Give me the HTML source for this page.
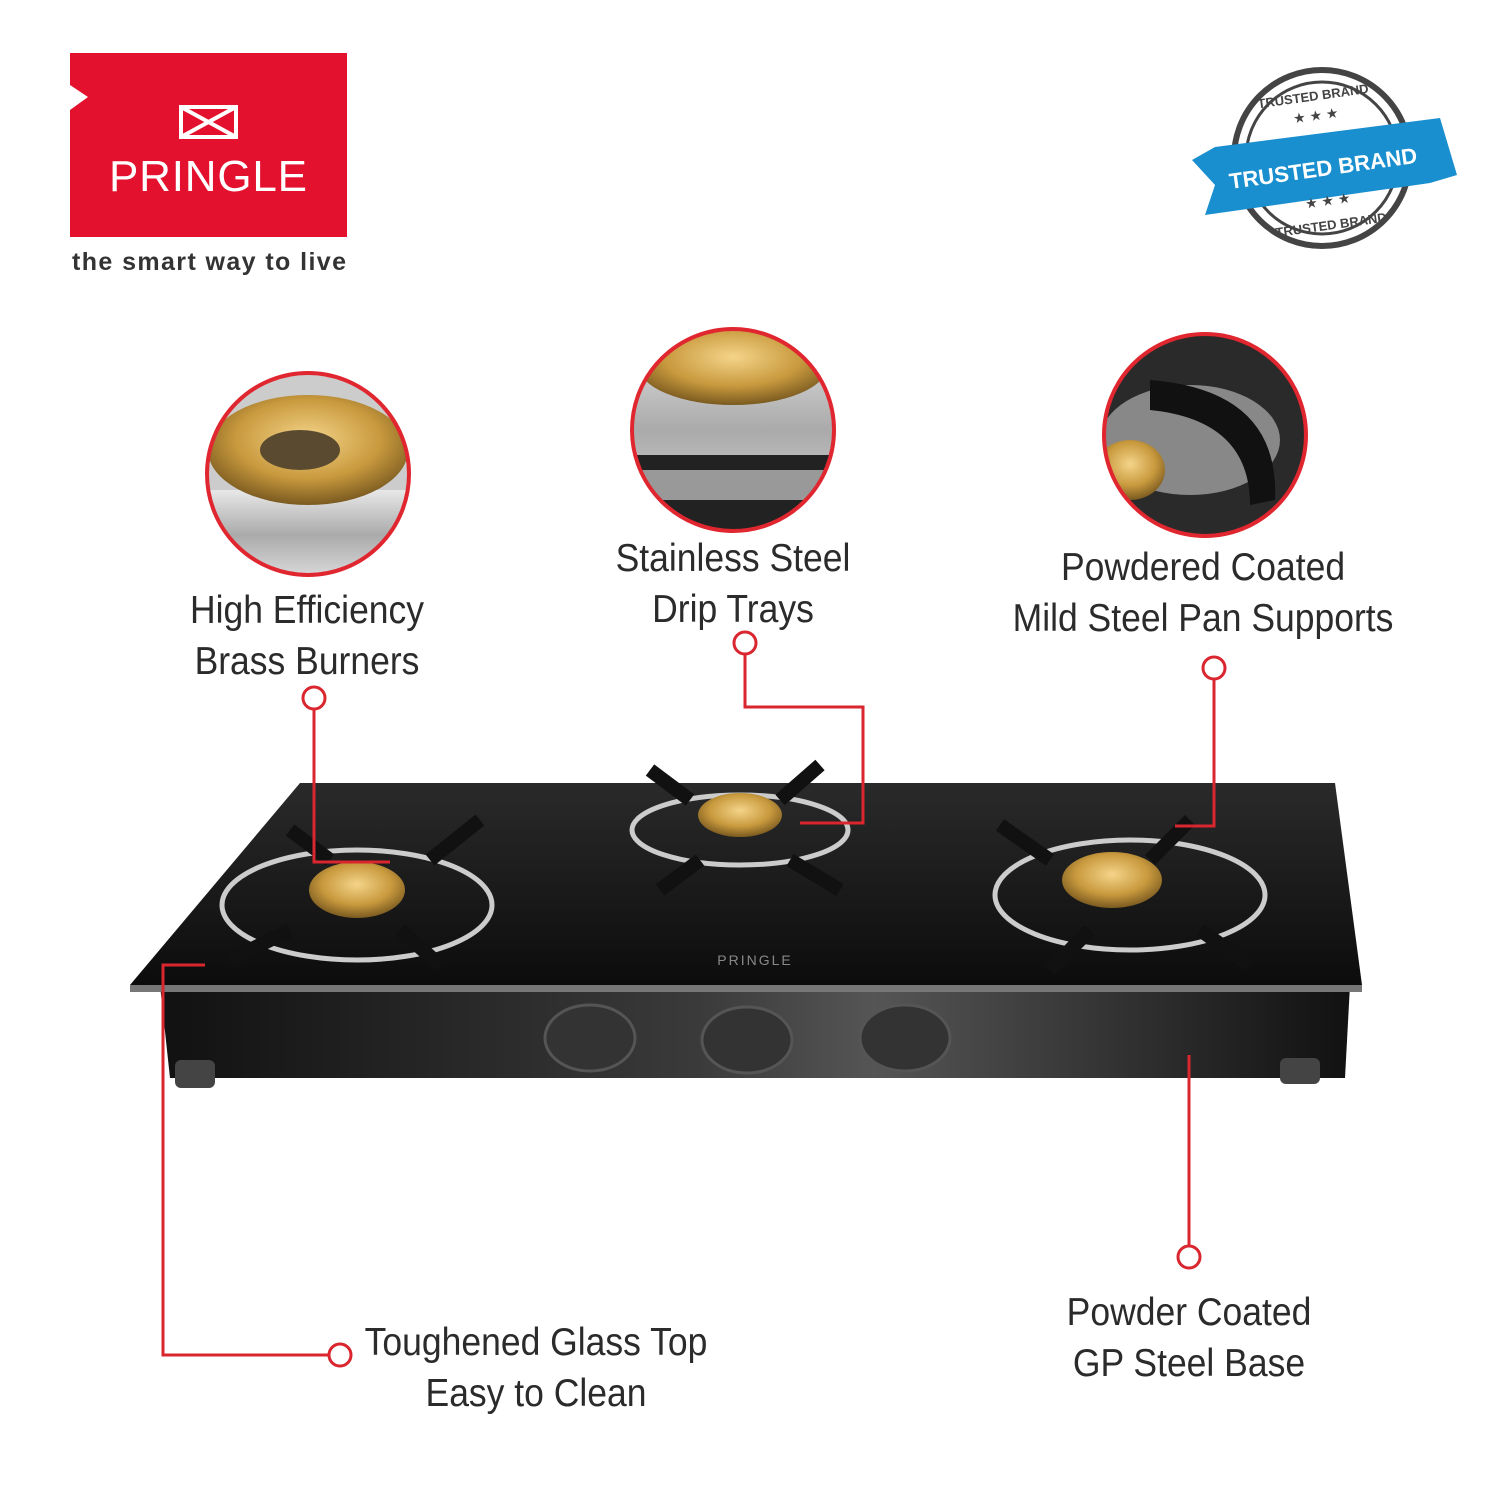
<!DOCTYPE html>
<html><head><meta charset="utf-8"><style>
html,body{margin:0;padding:0;background:#fff;}
body{width:1500px;height:1500px;position:relative;overflow:hidden;font-family:"Liberation Sans",sans-serif;}
.t{position:absolute;text-align:center;font-family:"Liberation Sans",sans-serif;font-size:39px;line-height:51px;color:#2b2b2b;transform:scaleX(0.91);transform-origin:center top;}
</style></head><body>
<svg width="1500" height="1500" style="position:absolute;left:0;top:0">
<defs>
<radialGradient id="brass" cx="50%" cy="40%" r="60%"><stop offset="0" stop-color="#f4d48a"/><stop offset="0.6" stop-color="#c99a3e"/><stop offset="1" stop-color="#7a5a20"/></radialGradient>
<linearGradient id="steel" x1="0" y1="0" x2="0" y2="1"><stop offset="0" stop-color="#e8e8e8"/><stop offset="0.5" stop-color="#aaa"/><stop offset="1" stop-color="#ddd"/></linearGradient>
<linearGradient id="base" x1="0" y1="0" x2="1" y2="0"><stop offset="0" stop-color="#111"/><stop offset="0.45" stop-color="#3a3a3a"/><stop offset="0.6" stop-color="#555"/><stop offset="1" stop-color="#111"/></linearGradient>
<linearGradient id="glass" x1="0" y1="0" x2="0" y2="1"><stop offset="0" stop-color="#2a2a2a"/><stop offset="1" stop-color="#0c0c0c"/></linearGradient>
<clipPath id="c1"><circle cx="308" cy="474" r="100"/></clipPath>
<clipPath id="c2"><circle cx="733" cy="430" r="100"/></clipPath>
<clipPath id="c3"><circle cx="1205" cy="435" r="100"/></clipPath>
</defs>
<polygon points="70,53 347,53 347,237 70,237 70,110 88,97 70,85" fill="#e4112e"/>
<g stroke="#fff" stroke-width="4" fill="none"><rect x="181" y="107" width="55" height="30"/><path d="M181,107 L236,137 M236,107 L181,137"/></g>
<text x="208" y="191" font-family="Liberation Sans" font-size="44" fill="#fff" text-anchor="middle" textLength="198">PRINGLE</text>
<text x="72" y="270" font-family="Liberation Sans" font-size="25" fill="#333" font-weight="bold" textLength="274">the smart way to live</text>
<g>
<circle cx="1322" cy="158" r="88" fill="#fff" stroke="#444" stroke-width="6"/>
<circle cx="1322" cy="158" r="76" fill="none" stroke="#444" stroke-width="3"/>
<polygon points="1192,160 1215,147 1440,118 1457,175 1430,183 1205,215 1215,185" fill="#1a8fcf"/>
<text x="1322" y="176" font-size="22" font-weight="bold" fill="#fff" text-anchor="middle" transform="rotate(-8 1322 160)">TRUSTED BRAND</text>
<text x="1322" y="100" font-size="13" font-weight="bold" fill="#444" text-anchor="middle" transform="rotate(-8 1322 160)">TRUSTED BRAND</text>
<text x="1322" y="230" font-size="13" font-weight="bold" fill="#444" text-anchor="middle" transform="rotate(-8 1322 160)">TRUSTED BRAND</text>
<text x="1322" y="120" font-size="14" fill="#444" text-anchor="middle" transform="rotate(-8 1322 160)">★ ★ ★</text>
<text x="1322" y="206" font-size="14" fill="#444" text-anchor="middle" transform="rotate(-8 1322 160)">★ ★ ★</text>
</g>
<g clip-path="url(#c1)"><rect x="200" y="370" width="220" height="210" fill="#ccc"/><rect x="200" y="490" width="220" height="90" fill="url(#steel)"/><ellipse cx="308" cy="450" rx="100" ry="55" fill="url(#brass)"/><ellipse cx="300" cy="450" rx="40" ry="20" fill="#5a4a30"/></g>
<circle cx="308" cy="474" r="101" fill="none" stroke="#e0262f" stroke-width="4"/>
<g clip-path="url(#c2)"><rect x="630" y="325" width="210" height="210" fill="url(#steel)"/><ellipse cx="733" cy="365" rx="95" ry="40" fill="url(#brass)"/><rect x="630" y="455" width="210" height="80" fill="#222"/><rect x="640" y="470" width="190" height="30" fill="#999"/></g>
<circle cx="733" cy="430" r="101" fill="none" stroke="#e0262f" stroke-width="4"/>
<g clip-path="url(#c3)"><rect x="1100" y="330" width="210" height="210" fill="#2a2a2a"/><ellipse cx="1190" cy="440" rx="90" ry="55" fill="#888"/><ellipse cx="1130" cy="470" rx="35" ry="30" fill="url(#brass)"/><path d="M1150,380 Q1280,390 1275,500 L1250,505 Q1250,420 1150,410 Z" fill="#111"/></g>
<circle cx="1205" cy="435" r="101" fill="none" stroke="#e0262f" stroke-width="4"/>
<polygon points="160,985 1350,985 1345,1078 170,1078" fill="url(#base)"/>
<rect x="175" y="1060" width="40" height="28" rx="6" fill="#444"/>
<rect x="1280" y="1058" width="40" height="26" rx="6" fill="#444"/>
<polygon points="300,783 1335,783 1362,985 130,985" fill="url(#glass)"/>
<polygon points="130,985 1362,985 1362,992 130,992" fill="#777"/>
<g fill="#333" stroke="#555" stroke-width="3"><ellipse cx="590" cy="1038" rx="45" ry="33"/><ellipse cx="747" cy="1040" rx="45" ry="33"/><ellipse cx="905" cy="1038" rx="45" ry="33"/></g>
<g fill="none" stroke="#ccc" stroke-width="5">
<ellipse cx="357" cy="905" rx="135" ry="55"/><ellipse cx="740" cy="830" rx="108" ry="35"/><ellipse cx="1130" cy="895" rx="135" ry="55"/></g>
<g fill="none" stroke="#111" stroke-width="14">
<path d="M290,830 L330,860 M480,820 L430,860 M230,960 L290,930 M440,965 L400,930"/>
<path d="M650,770 L690,800 M820,765 L780,800 M660,890 L700,860 M840,890 L790,860"/>
<path d="M1000,825 L1050,860 M1190,820 L1150,860 M1050,970 L1090,930 M1250,965 L1200,930"/>
</g>
<ellipse cx="357" cy="890" rx="48" ry="28" fill="url(#brass)"/>
<ellipse cx="740" cy="815" rx="42" ry="22" fill="url(#brass)"/>
<ellipse cx="1112" cy="880" rx="50" ry="28" fill="url(#brass)"/>
<text x="755" y="965" font-size="14" fill="#888" text-anchor="middle" letter-spacing="2">PRINGLE</text>
<g stroke="#d9262f" stroke-width="3" fill="none">
<path d="M314,710 L314,862 L390,862"/><circle cx="314" cy="698" r="11" fill="#fff"/>
<path d="M745,655 L745,707 L863,707 L863,823 L800,823"/><circle cx="745" cy="643" r="11" fill="#fff"/>
<path d="M1214,680 L1214,826 L1175,826"/><circle cx="1214" cy="668" r="11" fill="#fff"/>
<path d="M205,965 L163,965 L163,1355 L329,1355"/><circle cx="340" cy="1355" r="11" fill="#fff"/>
<path d="M1189,1055 L1189,1245"/><circle cx="1189" cy="1257" r="11" fill="#fff"/>
</g>
</svg>
<div class="t" style="left:107px;top:585px;width:400px">High Efficiency<br>Brass Burners</div>
<div class="t" style="left:533px;top:533px;width:400px">Stainless Steel<br>Drip Trays</div>
<div class="t" style="left:953px;top:542px;width:500px">Powdered Coated<br>Mild Steel Pan Supports</div>
<div class="t" style="left:336px;top:1317px;width:400px">Toughened Glass Top<br>Easy to Clean</div>
<div class="t" style="left:989px;top:1287px;width:400px">Powder Coated<br>GP Steel Base</div>
</body></html>
